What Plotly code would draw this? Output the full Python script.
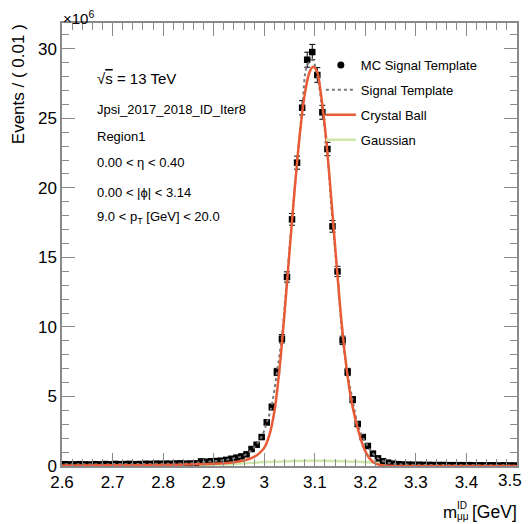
import numpy as np
import plotly.graph_objects as go

# ---------------- data (values in units of 10^6 events) ----------------
bin_low, bin_width, n_bins = 2.6, 0.01, 90
mass_centers = np.round(bin_low + bin_width * (np.arange(n_bins) + 0.5), 4)

x_tick_vals = [2.6, 2.7, 2.8, 2.9, 3.0, 3.1, 3.2, 3.3, 3.4, 3.5]
x_tick_text = ["2.6", "2.7", "2.8", "2.9", "3", "3.1", "3.2", "3.3", "3.4", "3.5"]

mc_signal = [
    0.13, 0.12, 0.12, 0.13, 0.12, 0.11, 0.13, 0.12, 0.14, 0.12,
    0.15, 0.13, 0.14, 0.15, 0.13, 0.14, 0.16, 0.15, 0.17, 0.16,
    0.17, 0.16, 0.18, 0.19, 0.17, 0.18, 0.19, 0.33, 0.31, 0.34,
    0.36, 0.38, 0.44, 0.52, 0.60, 0.69, 0.84, 1.22, 1.53, 2.08,
    3.14, 4.24, 6.76, 9.15, 13.59, 17.73, 21.81, 25.76, 29.21, 29.76,
    28.11, 25.43, 22.79, 17.23, 13.99, 9.03, 6.76, 4.77, 3.02, 2.08,
    1.44, 0.89, 0.55, 0.34, 0.24, 0.17, 0.13, 0.11, 0.10, 0.09,
    0.09, 0.08, 0.08, 0.07, 0.07, 0.07, 0.06, 0.06, 0.06, 0.06,
    0.06, 0.05, 0.05, 0.05, 0.05, 0.05, 0.04, 0.05, 0.04, 0.04,
]
mc_errors = [
    0.04, 0.04, 0.04, 0.04, 0.04, 0.04, 0.04, 0.04, 0.04, 0.04,
    0.04, 0.04, 0.04, 0.04, 0.04, 0.04, 0.04, 0.04, 0.04, 0.04,
    0.04, 0.04, 0.04, 0.04, 0.04, 0.04, 0.04, 0.06, 0.06, 0.06,
    0.06, 0.06, 0.07, 0.07, 0.08, 0.08, 0.09, 0.11, 0.12, 0.14,
    0.18, 0.21, 0.26, 0.30, 0.37, 0.42, 0.47, 0.51, 0.54, 0.55,
    0.53, 0.50, 0.48, 0.42, 0.37, 0.30, 0.26, 0.22, 0.17, 0.14,
    0.12, 0.09, 0.07, 0.06, 0.05, 0.04, 0.04, 0.03, 0.03, 0.03,
    0.03, 0.03, 0.03, 0.03, 0.03, 0.03, 0.03, 0.03, 0.03, 0.03,
    0.03, 0.03, 0.03, 0.03, 0.03, 0.03, 0.03, 0.03, 0.03, 0.03,
]
signal_template = [
    0.12, 0.12, 0.12, 0.12, 0.12, 0.12, 0.12, 0.13, 0.13, 0.13,
    0.14, 0.14, 0.14, 0.14, 0.14, 0.15, 0.15, 0.15, 0.16, 0.16,
    0.17, 0.17, 0.18, 0.18, 0.18, 0.19, 0.22, 0.28, 0.31, 0.33,
    0.36, 0.39, 0.44, 0.51, 0.59, 0.69, 0.85, 1.15, 1.55, 2.10,
    3.10, 4.40, 6.70, 9.30, 13.50, 17.80, 21.80, 25.60, 28.80, 29.20,
    28.00, 25.60, 22.40, 17.60, 13.70, 9.20, 6.60, 4.70, 3.00, 2.05,
    1.42, 0.90, 0.56, 0.36, 0.24, 0.17, 0.13, 0.11, 0.10, 0.09,
    0.09, 0.08, 0.08, 0.07, 0.07, 0.07, 0.06, 0.06, 0.06, 0.06,
    0.06, 0.05, 0.05, 0.05, 0.05, 0.05, 0.05, 0.05, 0.04, 0.04,
]

cb_mass = [2.60, 2.70, 2.80, 2.85, 2.90, 2.92, 2.94, 2.96, 2.97, 2.98, 2.99,
           3.00, 3.01, 3.02, 3.03, 3.04, 3.05, 3.06, 3.07, 3.08, 3.09, 3.097,
           3.105, 3.11, 3.12, 3.13, 3.14, 3.15, 3.16, 3.17, 3.18, 3.19, 3.20,
           3.21, 3.22, 3.23, 3.25, 3.30, 3.50]
cb_vals = [0.03, 0.05, 0.08, 0.11, 0.16, 0.20, 0.27, 0.40, 0.50, 0.65, 0.91,
           1.30, 2.20, 3.90, 6.90, 10.90, 15.40, 19.80, 23.70, 26.70, 28.35, 28.70,
           28.30, 27.30, 24.40, 20.40, 15.90, 11.50, 7.90, 5.20, 3.40, 2.05, 1.05,
           0.48, 0.18, 0.07, 0.02, 0.005, 0.0]

gaus_mass = [2.70, 2.75, 2.80, 2.85, 2.90, 2.95, 3.00, 3.05, 3.10, 3.15,
             3.20, 3.25, 3.30, 3.35, 3.40, 3.45, 3.50]
gaus_vals = [0.003, 0.01, 0.025, 0.05, 0.10, 0.17, 0.28, 0.35, 0.38, 0.35,
             0.28, 0.19, 0.11, 0.05, 0.025, 0.01, 0.004]

# ---------------- layout geometry ----------------
# The page body has an 8 px margin, the figure div fits the body width,
# so the figure is 532-16 px wide and starts at (8, 8) in the window.
OFF = 8
W, H = 532 - 2 * OFF, 524 - OFF
PLOT_L, PLOT_R, PLOT_T, PLOT_B = 62, 519, 23, 466      # window pixels
ML, MT = PLOT_L - OFF, PLOT_T - OFF
MR, MB = W - (PLOT_R - OFF), H - (PLOT_B - OFF)
PW, PH = PLOT_R - PLOT_L, PLOT_B - PLOT_T


def px(xw):
    return (xw - PLOT_L) / PW


def py(yw):
    return (PLOT_B - yw) / PH


FONT = "Liberation Sans, Arial, Helvetica, sans-serif"
AXC = "#8a8a8a"
ORANGE = "#e95b37"
GREEN = "#cde6aa"

fig = go.Figure()

fig.add_trace(go.Scatter(
    x=gaus_mass, y=gaus_vals, mode="lines", line=dict(color=GREEN, width=2.5, shape="spline"),
    name="Gaussian", legendgroup="d", legendrank=4))
fig.add_trace(go.Scatter(
    x=mass_centers, y=mc_signal, mode="markers", showlegend=False,
    marker=dict(symbol="square", size=6.5, color="black"),
    error_y=dict(type="data", array=mc_errors, color="black", thickness=1, width=3)))
fig.add_trace(go.Scatter(
    x=mass_centers, y=signal_template, mode="lines",
    line=dict(color="#777777", width=2, dash="dot", shape="spline"),
    name="Signal Template", legendgroup="b", legendrank=2))
fig.add_trace(go.Scatter(
    x=cb_mass, y=cb_vals, mode="lines", line=dict(color=ORANGE, width=2.5, shape="spline"),
    name="Crystal Ball", legendgroup="c", legendrank=3))
fig.add_trace(go.Scatter(
    x=[None], y=[None], mode="markers", marker=dict(symbol="circle", size=7, color="black"),
    name="MC Signal Template", legendgroup="a", legendrank=1))

axis_common = dict(
    showline=True, linecolor=AXC, linewidth=1.5, mirror="allticks",
    ticks="inside", tickcolor=AXC, tickwidth=1, showgrid=False, zeroline=False,
    tickfont=dict(family=FONT, size=17, color="black"),
)
# the last x label would spill past the page edge, so it is drawn as an annotation
fig.update_xaxes(range=[2.6, 3.5], tickmode="array", tickvals=x_tick_vals,
                 ticktext=x_tick_text[:-1] + [""], ticklen=13,
                 minor=dict(dtick=0.02, tick0=2.6, ticklen=7, ticks="inside", tickcolor=AXC,
                            showgrid=False),
                 **axis_common)
fig.update_yaxes(range=[0, 31.85], dtick=5, tick0=0, ticklen=13,
                 minor=dict(dtick=1, ticklen=7, ticks="inside", tickcolor=AXC, showgrid=False),
                 **axis_common)

ann = []


def text(xw, yw, s, size=13, xanchor="left", yanchor="middle", angle=0):
    ann.append(dict(x=px(xw), y=py(yw), xref="paper", yref="paper", text=s, showarrow=False,
                    xanchor=xanchor, yanchor=yanchor, textangle=angle,
                    font=dict(family=FONT, size=size, color="black")))


text(95, 78.5, "\u221a<span style='text-decoration:overline'>s</span> = 13 TeV", size=15)
text(95, 109, "Jpsi_2017_2018_ID_Iter8")
text(95, 137, "Region1")
text(95, 163, "0.00 &lt; \u03b7 &lt; 0.40")
text(95, 192.5, "0.00 &lt; |\u03d5| &lt; 3.14")
text(95, 217, "9.0 &lt; p<sub>T</sub> [GeV] &lt; 20.0")
text(19, 84, "Events / ( 0.01 )", size=17, xanchor="center", angle=-90)
text(61, 18, "\u00d710<sup>6</sup>", size=15)
text(443, 512, "m", size=17)
text(457, 505.5, "ID", size=10)
text(457, 516, "\u03bc\u03bc", size=10)
text(472, 512, "[GeV]", size=17.5)
text(526, 480.5, x_tick_text[-1], size=17, xanchor="right")

fig.update_layout(
    width=W, height=H, margin=dict(l=ML, r=MR, t=MT, b=MB),
    plot_bgcolor="white", paper_bgcolor="white",
    annotations=ann,
    legend=dict(x=px(322), y=py(50), xanchor="left", yanchor="top",
                traceorder="grouped", tracegroupgap=5, bgcolor="rgba(0,0,0,0)",
                font=dict(family=FONT, size=13, color="black"), itemwidth=30),
)

fig.write_html("out.html")
